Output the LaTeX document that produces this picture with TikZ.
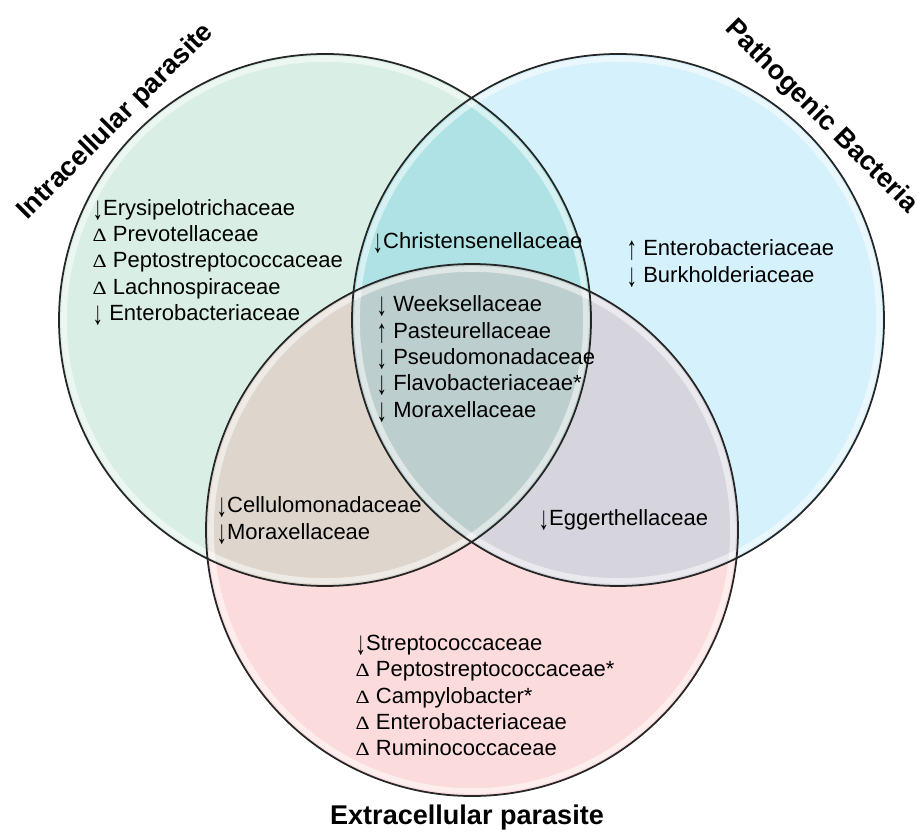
\documentclass[tikz,border=0pt]{standalone}
\usepackage{fontspec}
\setmainfont{Liberation Sans}
\newfontfamily\serifsym{Liberation Serif}
\usepackage{xcolor}
\usepackage{graphicx}

\definecolor{intracol}{HTML}{D9EFE5}
\definecolor{pathocol}{HTML}{D5F1FB}
\definecolor{extracol}{HTML}{FBDBDC}
\definecolor{ipcol}{HTML}{AFE2E5}
\definecolor{iecol}{HTML}{DED6CC}
\definecolor{pecol}{HTML}{D6D5DE}
\definecolor{allcol}{HTML}{BDCECE}

\newcommand{\dwn}{\raisebox{-0.35ex}{\scalebox{0.95}[1.5]{↓}}}
\newcommand{\upw}{\raisebox{-0.35ex}{\scalebox{0.95}[1.5]{↑}}}
\newcommand{\dlt}{{\serifsym\scalebox{1}[0.85]{Δ}}}
\newcommand{\taxfont}{\fontsize{6.26}{7.48}\selectfont}
\newcommand{\setfont}{\fontsize{7.7}{9}\selectfont\bfseries}

\begin{document}
\begin{tikzpicture}[
    taxa/.style={anchor=west, inner sep=0pt, align=left, font=\taxfont},
    setname/.style={inner sep=0pt, font=\setfont}]
  \useasboundingbox (0,0) rectangle (9.19,-8.32);
  \coordinate (intra) at (3.25,-3.20);
  \coordinate (patho) at (6.18,-3.20);
  \coordinate (extra) at (4.72,-5.30);

  % the three sets
  \fill[intracol] (intra) circle (2.66);
  \fill[pathocol] (patho) circle (2.66);
  \fill[extracol] (extra) circle (2.66);

  % overlaps
  \begin{scope}
    \clip (intra) circle (2.66);
    \fill[ipcol] (patho) circle (2.66);
    \fill[iecol] (extra) circle (2.66);
  \end{scope}
  \begin{scope}
    \clip (patho) circle (2.66);
    \fill[pecol] (extra) circle (2.66);
    \clip (intra) circle (2.66);
    \fill[allcol] (extra) circle (2.66);
  \end{scope}

  \foreach \s in {intra,patho,extra}
    \draw[white, opacity=0.5, line width=1.6pt] (\s) circle (2.61);
  \foreach \s in {intra,patho,extra}
    \draw[black!85, line width=0.5pt] (\s) circle (2.66);

  % set names
  \node[setname, rotate=45] (intraname) at (1.16,-1.22) {Intracellular parasite};
  \node[setname, rotate=-45] (pathoname) at (8.21,-1.17) {Pathogenic Bacteria};
  \node[setname] (extraname) at (4.67,-8.17) {Extracellular parasite};

  % families
  \node[taxa] (intraonly) at (0.92,-2.625)
    {\dwn Erysipelotrichaceae\\ \dlt{} Prevotellaceae\\ \dlt{} Peptostreptococcaceae\\
     \dlt{} Lachnospiraceae\\ \dwn{} Enterobacteriaceae};
  \node[taxa] (intrapatho) at (3.72,-2.43) {\dwn Christensenellaceae};
  \node[taxa] (allthree) at (3.76,-3.59)
    {\dwn{} Weeksellaceae\\ \upw{} Pasteurellaceae\\ \dwn{} Pseudomonadaceae\\
     \dwn{} Flavobacteriaceae*\\ \dwn{} Moraxellaceae};
  \node[taxa] (pathoonly) at (6.26,-2.635)
    {\upw{} Enterobacteriaceae\\ \dwn{} Burkholderiaceae};
  \node[taxa] (intraextra) at (2.16,-5.205)
    {\dwn Cellulomonadaceae\\ \dwn Moraxellaceae};
  \node[taxa] (pathoextra) at (5.38,-5.20) {\dwn Eggerthellaceae};
  \node[taxa] (extraonly) at (3.55,-6.955)
    {\dwn Streptococcaceae\\ \dlt{} Peptostreptococcaceae*\\ \dlt{} Campylobacter*\\
     \dlt{} Enterobacteriaceae\\ \dlt{} Ruminococcaceae};
\end{tikzpicture}
\end{document}
